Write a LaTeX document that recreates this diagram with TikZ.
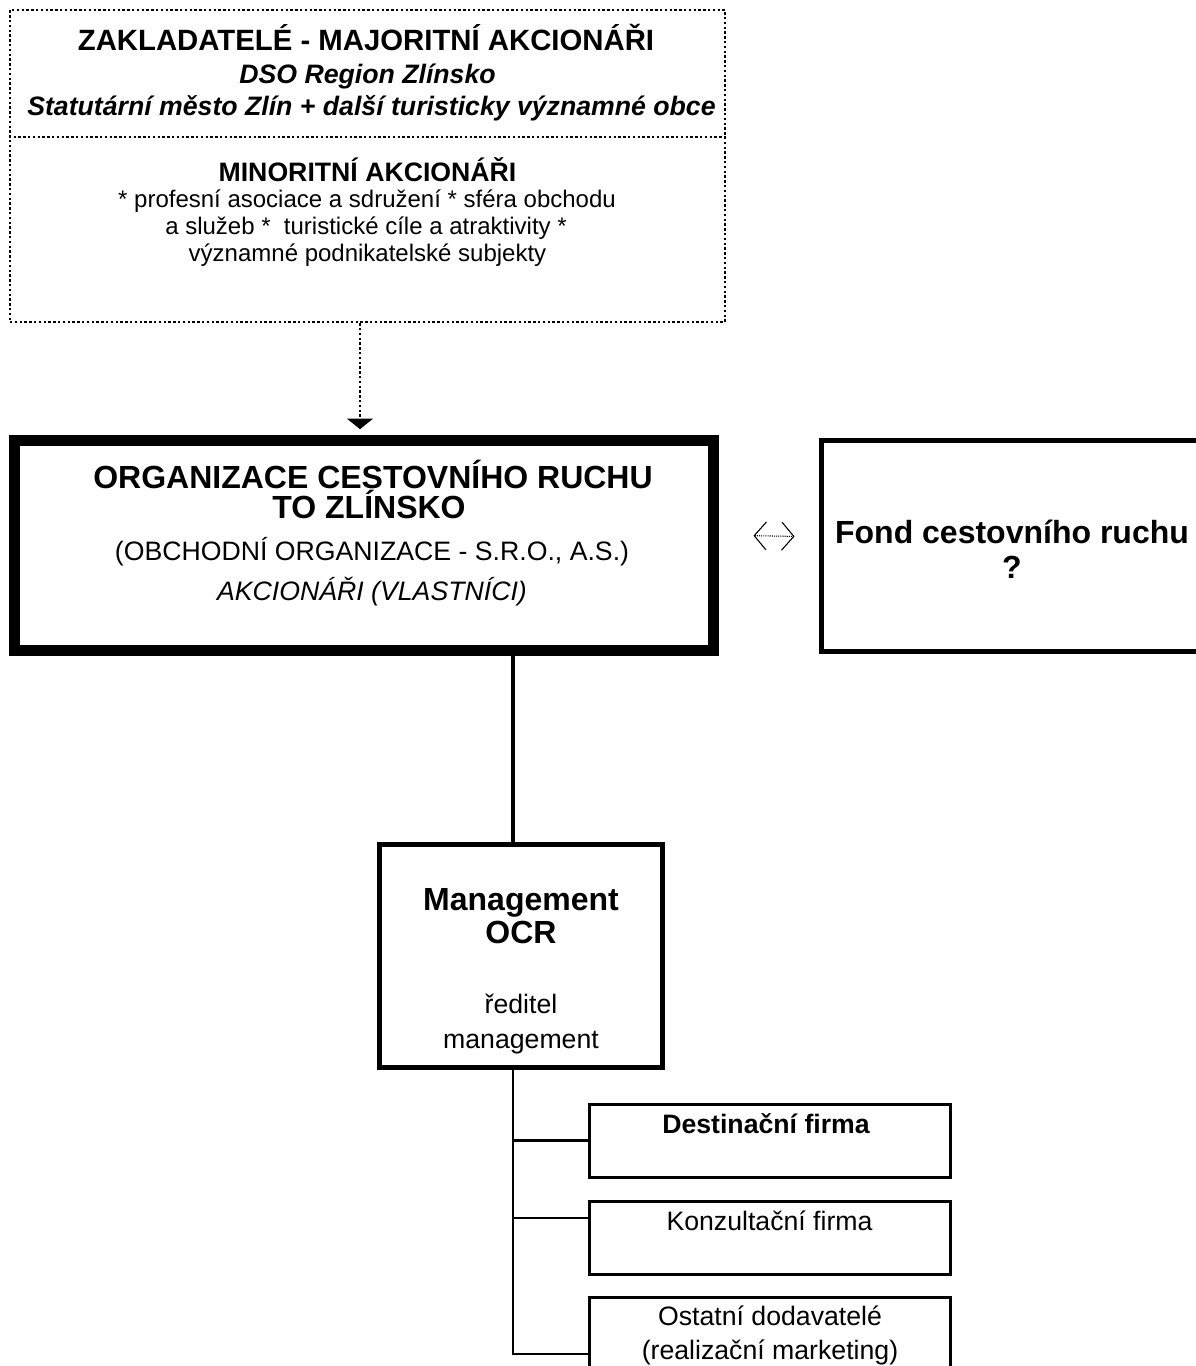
\documentclass[tikz,border=0pt]{standalone}
\usepackage{fontspec}
\setmainfont{Liberation Sans}
\usetikzlibrary{arrows.meta}
\begin{document}
\begin{tikzpicture}[x=0.75pt,y=-0.75pt,
  box/.style={draw, rectangle, inner sep=0pt},
  dotline/.style={line width=1.8pt, dash pattern=on 1.8pt off 1.8pt},
  txt/.style={inner sep=0pt, anchor=base, align=center},
  fbig/.style={font=\fontsize{24}{28}\selectfont\bfseries},
  ftitle/.style={font=\fontsize{22}{26}\selectfont\bfseries},
  fbi/.style={font=\fontsize{20}{24}\selectfont\bfseries\itshape},
  fb/.style={font=\fontsize{20}{24}\selectfont\bfseries},
  fn/.style={font=\fontsize{20}{24}\selectfont},
  fi/.style={font=\fontsize{20}{24}\selectfont\itshape},
  fs/.style={font=\fontsize{18}{22}\selectfont},
  treeline/.style={line width=1.8pt},
  dblarrow/.style={line width=0.8pt, dash pattern=on 0.8pt off 0.8pt,
    {Straight Barb[length=9pt,width=21pt]}-{Straight Barb[length=9pt,width=21pt]}}
]
\useasboundingbox (0,0) rectangle (1195,1366);

% boxes
\node[box, dotline, minimum width=536.25pt, minimum height=234pt] (founders) at (367.5,166) {};
\node[box, line width=8.25pt, minimum width=524.25pt, minimum height=157.5pt] (org) at (363.5,545) {};
\node[box, line width=3.75pt, minimum width=291.75pt, minimum height=157.9pt] (fond) at (1015.5,545.75) {};
\node[box, line width=3.75pt, minimum width=211.9pt, minimum height=167.6pt] (mgmt) at (520.75,956.25) {};
\node[box, line width=2.25pt, minimum width=270.4pt, minimum height=54.75pt] (dest) at (769.75,1140.5) {};
\node[box, line width=2.25pt, minimum width=270.4pt, minimum height=54.75pt] (kon) at (769.75,1237.5) {};
\node[box, line width=2.25pt, minimum width=270.4pt, minimum height=77.25pt] (ost) at (769.75,1348.5) {};

% divider in founders box
\coordinate (div) at (0,137);
\draw[dotline] (founders.west |- div) -- (founders.east |- div);

% texts in founders box
\node[txt, ftitle] (t1) at (366,51) {ZAKLADATELÉ - MAJORITNÍ AKCIONÁŘI};
\node[txt, fbi] (t2) at (367.5,84) {DSO Region Zlínsko};
\node[txt, fbi] (t3) at (371.5,116) {Statutární město Zlín + další turisticky významné obce};
\node[txt, fb] (t4) at (367.5,181) {MINORITNÍ AKCIONÁŘI};
\node[txt, fs] (t5) at (367,207) {* profesní asociace a sdružení * sféra obchodu};
\node[txt, fs] (t6) at (366,234) {a služeb *\ \ turistické cíle a atraktivity *};
\node[txt, fs] (t7) at (367.5,261) {významné podnikatelské subjekty};

% texts in org box
\node[txt, fbig] (o1) at (373,488) {ORGANIZACE CESTOVNÍHO RUCHU};
\node[txt, fbig] (o2) at (369,518) {TO ZLÍNSKO};
\node[txt, fn] (o3) at (372,560) {(OBCHODNÍ ORGANIZACE - S.R.O., A.S.)};
\node[txt, fi] (o4) at (372,600) {AKCIONÁŘI (VLASTNÍCI)};

% fond
\node[txt, fbig] (f1) at (1012,543) {Fond cestovního ruchu};
\node[txt, fbig] (f2) at (1012,578) {?};

% management
\node[txt, fbig] (m1) at (521,910) {Management};
\node[txt, fbig] (m2) at (521,943) {OCR};
\node[txt, fn] (m3) at (521,1013) {ředitel};
\node[txt, fn] (m4) at (521,1048) {management};

% children
\node[txt, fb] (d1) at (766,1133) {Destinační firma};
\node[txt, fn] (k1) at (769.5,1230) {Konzultační firma};
\node[txt, fn] (s1) at (770,1325) {Ostatní dodavatelé};
\node[txt, fn] (s2) at (770,1359) {(realizační marketing)};

% connectors
\coordinate (arrx) at (360,0);
\draw[dotline, -{Triangle[width=19.5pt,length=8pt]}, shorten >=4pt] (founders.south -| arrx) -- (org.north -| arrx);

\draw[dblarrow] ([xshift=26.25pt, yshift=7pt]org.east) -- ([xshift=-18pt, yshift=7pt]fond.west);

\coordinate (trunk) at (513,0);
\draw[line width=3.5pt] (org.south -| trunk) -- (mgmt.north -| trunk);

\coordinate (bd) at (dest.west);
\coordinate (bk) at ([yshift=14.6pt]kon.west);
\coordinate (bo) at ([yshift=-4.1pt]ost.west);
\draw[treeline] (mgmt.south -| trunk) -- (trunk |- bo) -- (bo);
\draw[treeline] (trunk |- bd) -- (bd);
\draw[treeline] (trunk |- bk) -- (bk);
\end{tikzpicture}
\end{document}
